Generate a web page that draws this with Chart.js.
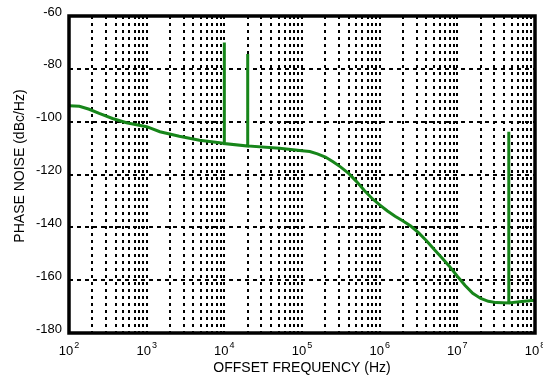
<!DOCTYPE html>
<html><head><meta charset="utf-8">
<script src="https://cdn.jsdelivr.net/npm/chart.js@4"></script>
<style>html,body{margin:0;padding:0;background:#fff}#wrap{width:543px;height:377px}</style>
</head><body><div id="wrap"><canvas id="c" width="543" height="377"></canvas></div>
<script>
const freqHz = [100, 136, 182, 245, 363, 550, 1000, 1480, 2630, 4790, 8700, 10000, 20000, 51300,
  100000, 126000, 158000, 200000, 251000, 316000, 398000, 501000, 631000, 794000,
  1000000, 1260000, 1580000, 2000000, 2510000, 3160000, 3980000, 5010000, 6310000, 7940000,
  10000000, 12600000, 15800000, 20000000, 25100000, 31600000, 46000000, 63000000, 100000000];
const noiseDbc = [-94, -94.2, -95.3, -96.9, -98.8, -100.4, -101.9, -103.8, -105.5, -107, -108, -108.3, -109.2, -110.1,
  -111, -111.3, -112.2, -113.4, -115.2, -117.2, -119.6, -122.6, -126, -129,
  -131.5, -133.8, -135.8, -137.6, -139.5, -142, -145, -148.3, -151.5, -154.8,
  -158.5, -162, -165, -166.9, -168, -168.5, -168.6, -168.2, -167.6];
const spurFreqHz = [10000, 20000, 46000000];
const spurTopDbc = [-70, -74.4, -103.8];
const decadeExponents = [2, 3, 4, 5, 6, 7, 8];
const yTickValues = [-180, -160, -140, -120, -100, -80, -60];
const xTitle = 'OFFSET FREQUENCY (Hz)';
const yTitle = 'PHASE NOISE (dBc/Hz)';

const points = [];
freqHz.forEach((f, i) => {
  points.push({x: f, y: noiseDbc[i]});
  const s = spurFreqHz.indexOf(f);
  if (s >= 0) {
    points.push({x: f, y: spurTopDbc[s]});
    points.push({x: f, y: noiseDbc[i]});
  }
});

const FONT = "'Liberation Sans', Arial, Helvetica, sans-serif";

const framePlugin = {
  id: 'frame',
  afterDatasetsDraw(chart) {
    const {ctx, chartArea: a} = chart;
    ctx.save();
    ctx.strokeStyle = '#000';
    ctx.lineWidth = 3.5;
    ctx.strokeRect(a.left, a.top, a.right - a.left, a.bottom - a.top);
    ctx.restore();
  }
};

const labelPlugin = {
  id: 'labels',
  afterDraw(chart) {
    const {ctx} = chart;
    const sx = chart.scales.x;
    ctx.save();
    ctx.fillStyle = '#000';
    ctx.textBaseline = 'alphabetic';
    decadeExponents.forEach(n => {
      const px = sx.getPixelForValue(Math.pow(10, n));
      ctx.font = '13px ' + FONT;
      const wb = ctx.measureText('10').width;
      ctx.font = '9px ' + FONT;
      const we = ctx.measureText(String(n)).width;
      const x0 = px - (wb + we + 1) / 2;
      ctx.font = '13px ' + FONT;
      ctx.textAlign = 'left';
      ctx.fillText('10', x0, 355);
      ctx.font = '9px ' + FONT;
      ctx.fillText(String(n), x0 + wb + 1, 348);
    });
    // y axis title
    ctx.translate(20, 166);
    ctx.rotate(-Math.PI / 2);
    ctx.font = '14px ' + FONT;
    ctx.textAlign = 'center';
    ctx.textBaseline = 'middle';
    ctx.fillText(yTitle, 0, 0);
    ctx.restore();
  }
};

new Chart(document.getElementById('c'), {
  type: 'line',
  data: {
    datasets: [{
      data: points,
      borderColor: '#17861a',
      borderWidth: 3,
      pointRadius: 0,
      tension: 0,
      fill: false
    }]
  },
  options: {
    responsive: false,
    devicePixelRatio: 1,
    animation: false,
    events: [],
    layout: {padding: {top: 16, right: 8, left: 0, bottom: 0}},
    plugins: {legend: {display: false}, tooltip: {enabled: false}},
    scales: {
      x: {
        type: 'logarithmic',
        min: 100,
        max: 100000000,
        afterBuildTicks(scale) {
          const t = [];
          decadeExponents.forEach(n => {
            for (let m = 1; m <= 9; m++) {
              const v = m * Math.pow(10, n);
              if (v <= 100000000) t.push({value: v});
            }
          });
          scale.ticks = t;
        },
        afterFit(scale) { scale.height = 44; },
        ticks: {display: false, autoSkip: false},
        grid: {color: '#000', lineWidth: 2, drawTicks: false},
        border: {display: false, dash: [3, 4]},
        title: {display: true, text: xTitle, color: '#000',
          font: {family: FONT, size: 14}, padding: {top: 0, bottom: 0}}
      },
      y: {
        min: -180,
        max: -60,
        afterBuildTicks(scale) { scale.ticks = yTickValues.map(v => ({value: v})); },
        afterFit(scale) { scale.width = 69; },
        ticks: {color: '#000', font: {family: FONT, size: 13}, padding: 7, labelOffset: -4},
        grid: {color: '#000', lineWidth: 2, drawTicks: false},
        border: {display: false, dash: [4, 4]},
        title: {display: false}
      }
    }
  },
  plugins: [framePlugin, labelPlugin]
});
</script>
</body></html>
